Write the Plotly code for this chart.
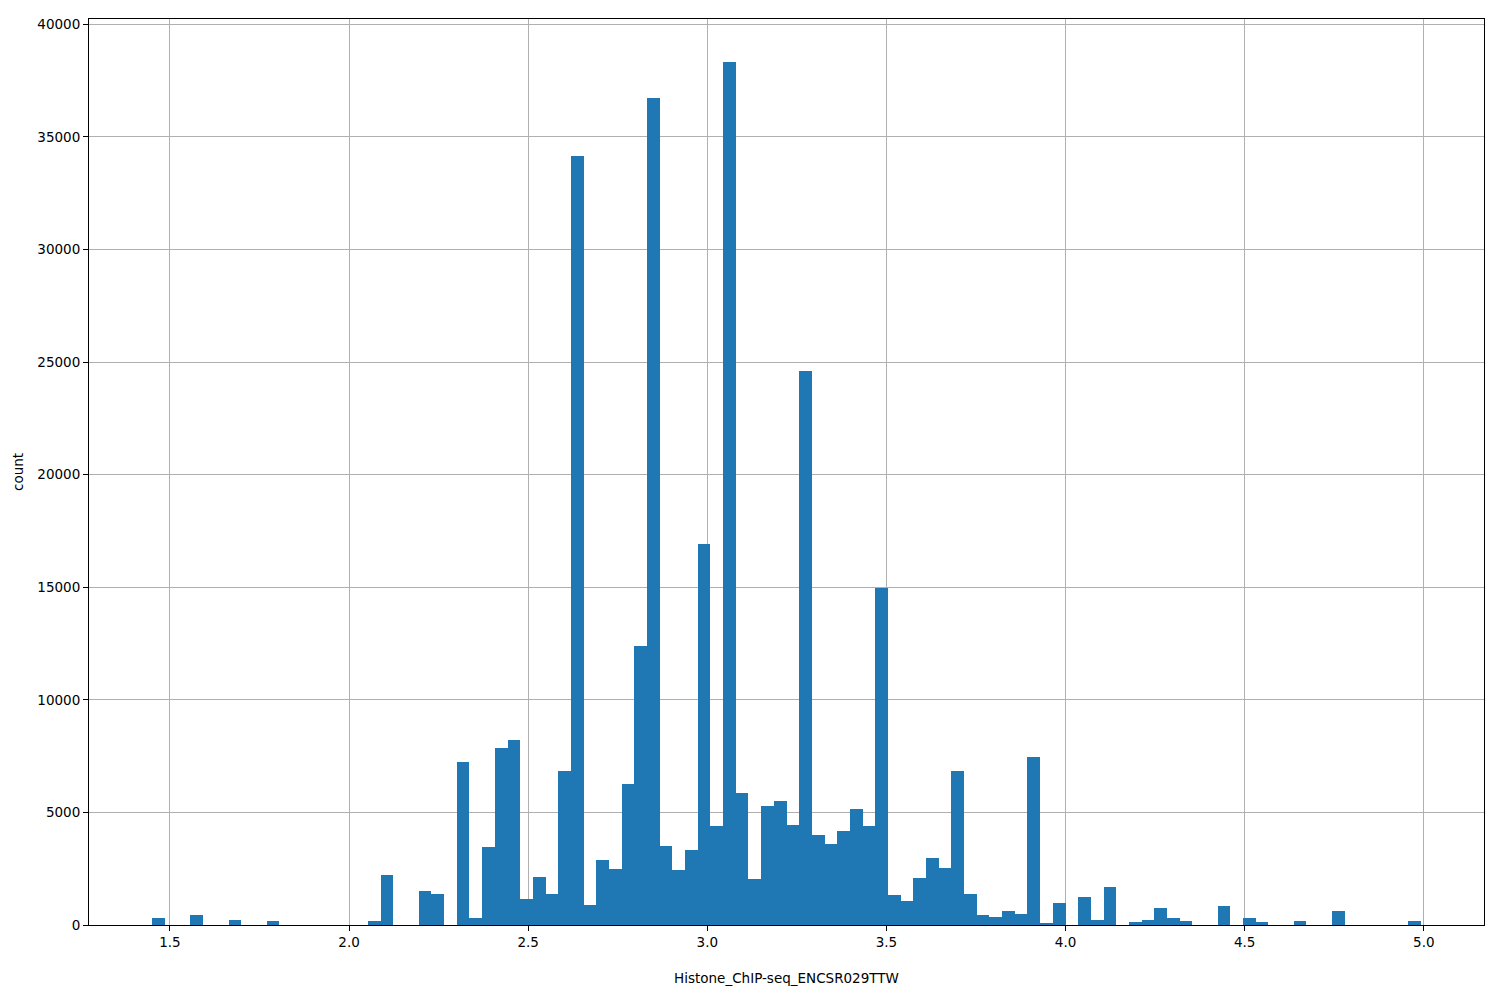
import numpy as np
import plotly.graph_objects as go

# Histogram: 100 equal-width bins
bin_start = 1.451
bin_end = 4.991
n_bins = 100
counts = [
    320, 0, 0, 440, 0, 0, 220, 0, 0, 180,
    0, 0, 0, 0, 0, 0, 0, 180, 2210, 0,
    0, 1500, 1370, 0, 7250, 310, 3450, 7870, 8230, 1150,
    2120, 1370, 6860, 34160, 880, 2880, 2480, 6240, 12390, 36730,
    3500, 2430, 3320, 16900, 4380, 38320, 5880, 2040, 5270, 5490,
    4420, 24600, 3980, 3580, 4160, 5130, 4380, 14960, 1330, 1060,
    2080, 2970, 2520, 6820, 1370, 440, 350, 620, 490, 7440,
    90, 970, 0, 1240, 220, 1680, 0, 130, 220, 750,
    310, 180, 0, 0, 840, 0, 310, 130, 0, 0,
    180, 0, 0, 620, 0, 0, 0, 0, 0, 180,
]
x_ticks = [1.5, 2.0, 2.5, 3.0, 3.5, 4.0, 4.5, 5.0]
y_ticks = [0, 5000, 10000, 15000, 20000, 25000, 30000, 35000, 40000]
x_label = "Histone_ChIP-seq_ENCSR029TTW"
y_label = "count"

edges = np.linspace(bin_start, bin_end, n_bins + 1)
centers = (edges[:-1] + edges[1:]) / 2
width = edges[1] - edges[0]

fig = go.Figure(go.Bar(
    x=centers, y=counts, width=width,
    marker=dict(color="#1f77b4", line=dict(width=0)),
    hoverinfo="x+y",
))

span = bin_end - bin_start
ymax = max(counts) * 1.05
font = dict(family="DejaVu Sans", size=13.5, color="black")

fig.update_layout(
    width=1500, height=1000,
    margin=dict(l=81, r=24, t=8, b=83),
    plot_bgcolor="white", paper_bgcolor="white",
    font=font, bargap=0, showlegend=False,
)
fig.update_xaxes(
    range=[bin_start - 0.05 * span, bin_end + 0.05 * span],
    tickvals=x_ticks, ticktext=[f"{v:.1f}" for v in x_ticks],
    showgrid=True, gridcolor="#b0b0b0", gridwidth=1,
    showline=True, linecolor="black", linewidth=1, mirror=True,
    ticks="outside", ticklen=5, tickcolor="black",
    zeroline=False, layer="above traces",
    title=dict(text=x_label, font=font, standoff=24),
)
fig.update_yaxes(
    range=[0, ymax],
    tickvals=y_ticks, ticktext=[str(v) for v in y_ticks],
    showgrid=True, gridcolor="#b0b0b0", gridwidth=1,
    showline=True, linecolor="black", linewidth=1, mirror=True,
    ticks="outside", ticklen=5, tickcolor="black",
    zeroline=False, layer="above traces",
    title=dict(text=y_label, font=font, standoff=10),
)

fig.write_html("out.html")
